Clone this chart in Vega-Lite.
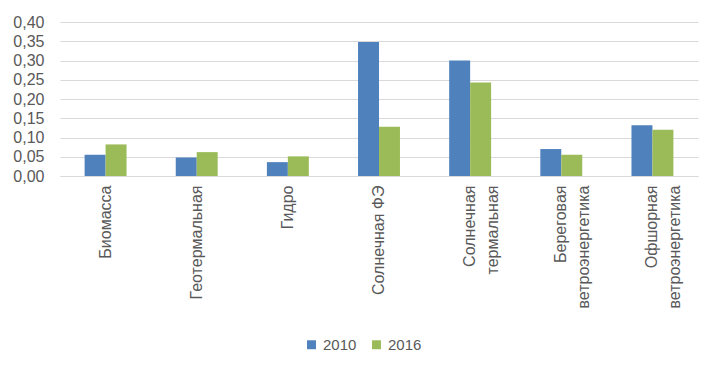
{
  "$schema": "https://vega.github.io/schema/vega-lite/v6.json",
  "width": 638,
  "height": 154,
  "autosize": {"type": "none"},
  "padding": {"left": 60, "top": 22, "right": 22, "bottom": 200},
  "background": "white",
  "config": {
    "view": {"stroke": null},
    "font": "Liberation Sans"
  },
  "data": {
    "values": [
      {"source": "Биомасса", "year": "2010", "value": 0.055},
      {"source": "Биомасса", "year": "2016", "value": 0.082},
      {"source": "Геотермальная", "year": "2010", "value": 0.048},
      {"source": "Геотермальная", "year": "2016", "value": 0.062},
      {"source": "Гидро", "year": "2010", "value": 0.036},
      {"source": "Гидро", "year": "2016", "value": 0.051},
      {"source": "Солнечная ФЭ", "year": "2010", "value": 0.348},
      {"source": "Солнечная ФЭ", "year": "2016", "value": 0.128},
      {"source": "Солнечная термальная", "year": "2010", "value": 0.300},
      {"source": "Солнечная термальная", "year": "2016", "value": 0.243},
      {"source": "Береговая ветроэнергетика", "year": "2010", "value": 0.070},
      {"source": "Береговая ветроэнергетика", "year": "2016", "value": 0.055},
      {"source": "Офшорная ветроэнергетика", "year": "2010", "value": 0.132},
      {"source": "Офшорная ветроэнергетика", "year": "2016", "value": 0.120}
    ]
  },
  "mark": {"type": "bar"},
  "encoding": {
    "x": {
      "field": "source",
      "type": "nominal",
      "sort": null,
      "scale": {"paddingInner": 0.54, "paddingOuter": 0.27},
      "axis": {
        "title": null,
        "labelAngle": -90,
        "labelAlign": "right",
        "labelBaseline": "middle",
        "labelFontSize": 16,
        "labelColor": "#595959",
        "labelPadding": 9,
        "labelLineHeight": 23,
        "ticks": false,
        "domainColor": "#d9d9d9",
        "domainWidth": 1,
        "labelExpr": "datum.label == 'Солнечная термальная' ? ['Солнечная', 'термальная'] : datum.label == 'Береговая ветроэнергетика' ? ['Береговая', 'ветроэнергетика'] : datum.label == 'Офшорная ветроэнергетика' ? ['Офшорная', 'ветроэнергетика'] : datum.label"
      }
    },
    "xOffset": {"field": "year", "type": "nominal"},
    "y": {
      "field": "value",
      "type": "quantitative",
      "scale": {"domain": [0, 0.4]},
      "axis": {
        "title": null,
        "values": [0, 0.05, 0.1, 0.15, 0.2, 0.25, 0.3, 0.35, 0.4],
        "labelExpr": "replace(format(datum.value, '.2f'), '.', ',')",
        "labelFontSize": 16,
        "labelColor": "#595959",
        "labelPadding": 16,
        "ticks": false,
        "domain": false,
        "gridColor": "#d9d9d9",
        "gridWidth": 1
      }
    },
    "color": {
      "field": "year",
      "type": "nominal",
      "scale": {"domain": ["2010", "2016"], "range": ["#4F81BD", "#9BBB59"]},
      "legend": {
        "title": null,
        "orient": "none",
        "direction": "horizontal",
        "legendX": 244,
        "legendY": 315,
        "symbolType": "square",
        "symbolSize": 80,
        "labelFontSize": 15,
        "labelColor": "#595959",
        "columnPadding": 12,
        "labelOffset": 4
      }
    }
  }
}
